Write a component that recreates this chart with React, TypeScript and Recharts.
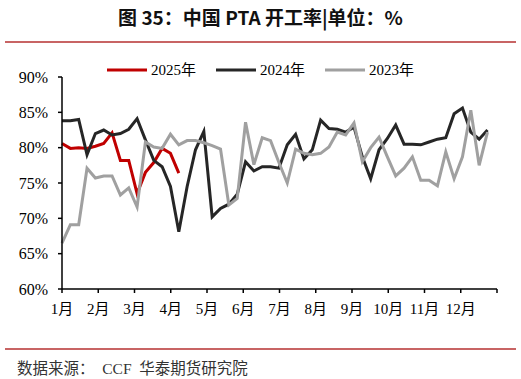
import { Line, LineChart, XAxis, YAxis } from 'recharts';

const monthLabels = ['1月', '2月', '3月', '4月', '5月', '6月', '7月', '8月', '9月', '10月', '11月', '12月', ''];
const weeksPerYear = 52.14;
const yTicks = [60, 65, 70, 75, 80, 85, 90];

// weekly PTA operating rate, %
const rate2025 = [80.6, 79.9, 80.0, 79.9, 80.2, 80.6, 82.1, 78.2, 78.2, 73.5, 76.5, 77.9, 79.9, 79.2, 76.4];

const rate2024 = [
  83.8, 83.8, 84.0, 79.0, 82.0, 82.5, 81.8, 82.0, 82.6, 84.1, 81.1, 78.2, 77.3, 74.5, 68.1, 74.5, 79.7, 82.3,
  70.2, 71.4, 72.0, 73.4, 78.0, 76.7, 77.3, 77.3, 77.1, 80.4, 81.9, 78.4, 79.7, 83.9, 82.7, 82.6, 82.2, 82.9,
  78.7, 75.6, 79.7, 81.3, 83.2, 80.5, 80.5, 80.4, 80.8, 81.2, 81.4, 84.8, 85.6, 82.2, 81.2, 82.5,
];

const rate2023 = [
  66.5, 69.1, 69.1, 77.1, 75.7, 76.0, 76.0, 73.3, 74.3, 71.6, 80.8, 80.1, 79.9, 81.9, 80.4, 81.0, 81.0, 80.7,
  80.3, 79.8, 71.9, 72.8, 83.6, 77.6, 81.4, 81.0, 77.9, 75.0, 79.8, 79.2, 79.0, 79.2, 80.1, 82.2, 81.8, 83.5,
  78.0, 80.0, 81.5, 78.7, 76.0, 77.1, 78.7, 75.4, 75.4, 74.6, 79.4, 75.6, 78.7, 85.3, 77.5, 82.2,
];

const series = [
  { key: 'y2025', name: '2025年', color: '#c00000', values: rate2025 },
  { key: 'y2024', name: '2024年', color: '#262626', values: rate2024 },
  { key: 'y2023', name: '2023年', color: '#a0a0a0', values: rate2023 },
];

const data = rate2024.map((_, i) => {
  const row: Record<string, number | undefined> = { week: i };
  series.forEach((s) => {
    row[s.key] = s.values[i];
  });
  return row;
});

const monthTicks = monthLabels.map((_, m) => (m * weeksPerYear) / 12);

const axisFont = '"Liberation Serif", "Noto Sans CJK SC", serif';
const tickStyle = { fontFamily: axisFont, fontSize: 15, fill: '#000' };

function Legend() {
  return (
    <div
      style={{
        position: 'absolute',
        left: 107,
        top: 60,
        display: 'flex',
        alignItems: 'center',
        fontFamily: axisFont,
        fontSize: 15,
        color: '#000',
        lineHeight: '20px',
      }}
    >
      {series.map((s) => (
        <div key={s.key} style={{ display: 'flex', alignItems: 'center', marginRight: 20 }}>
          <svg width={40} height={6} style={{ marginRight: 4 }}>
            <line x1={0} y1={3} x2={40} y2={3} stroke={s.color} strokeWidth={3} />
          </svg>
          <span>{s.name}</span>
        </div>
      ))}
    </div>
  );
}

export default function App() {
  return (
    <div style={{ position: 'absolute', left: 0, top: 0, width: 521, height: 379, background: '#fff' }}>
      <div
        style={{
          position: 'absolute',
          top: 5,
          left: 0,
          width: 521,
          textAlign: 'center',
          fontFamily: '"Noto Sans CJK SC", sans-serif',
          fontWeight: 'bold',
          fontSize: 19,
          lineHeight: '24px',
          color: '#111',
        }}
      >
        图 35：中国 PTA 开工率|单位：%
      </div>
      <div style={{ position: 'absolute', left: 5, top: 41, width: 511, height: 2, background: '#c86464' }} />

      <div style={{ position: 'absolute', left: 0, top: 0 }}>
        <LineChart width={521} height={330} data={data} margin={{ top: 77, right: 24, bottom: 11, left: 0 }}>
          <XAxis
            dataKey="week"
            type="number"
            domain={[0, weeksPerYear]}
            ticks={monthTicks}
            tickFormatter={(v: number) => monthLabels[Math.round((v * 12) / weeksPerYear)]}
            interval={0}
            tick={tickStyle}
            tickSize={4}
            tickMargin={10}
            axisLine={{ stroke: '#000', strokeWidth: 1.5 }}
            tickLine={{ stroke: '#000', strokeWidth: 1.5 }}
            height={30}
          />
          <YAxis
            domain={[60, 90]}
            ticks={yTicks}
            tickFormatter={(v: number) => `${v}%`}
            tick={{ ...tickStyle, fontSize: 16 }}
            tickSize={4}
            tickMargin={10}
            width={62}
            axisLine={{ stroke: '#000', strokeWidth: 1.5 }}
            tickLine={{ stroke: '#000', strokeWidth: 1.5 }}
          />
          {series.map((s) => (
            <Line
              key={s.key}
              type="linear"
              dataKey={s.key}
              name={s.name}
              stroke={s.color}
              strokeWidth={3}
              dot={false}
              activeDot={false}
              isAnimationActive={false}
            />
          ))}
        </LineChart>
      </div>

      <Legend />

      <div style={{ position: 'absolute', left: 5, top: 348, width: 511, height: 2, background: '#c86464' }} />
      <div
        style={{
          position: 'absolute',
          left: 17,
          top: 358,
          fontFamily: axisFont,
          fontSize: 15.5,
          lineHeight: '22px',
          color: '#333',
          whiteSpace: 'pre',
        }}
      >
        数据来源：  CCF  华泰期货研究院
      </div>
    </div>
  );
}
